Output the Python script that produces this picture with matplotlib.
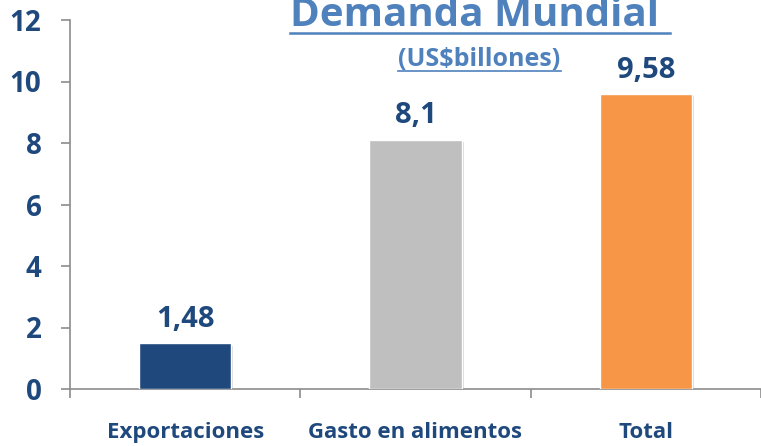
import matplotlib.pyplot as plt
import matplotlib.patheffects as pe
from matplotlib.lines import Line2D

categories = ['Exportaciones', 'Gasto en alimentos', 'Total']
values = [1.48, 8.1, 9.58]
value_labels = ['1,48', '8,1', '9,58']
bar_colors = ['#1F497D', '#BFBFBF', '#F79646']

txt = '#1F497D'
title_col = '#4F81BD'
axis_col = '#8C8C8C'
font = 'Open Sans'

fig = plt.figure(figsize=(7.61, 4.46), dpi=100)
ax = fig.add_axes([70 / 761, 1 - 389 / 446, 1 - 70 / 761, (389 - 20) / 446])

x = range(len(categories))
bars = ax.bar(x, values, width=0.4, color=bar_colors, edgecolor='white', linewidth=1,
              zorder=3)
for b in bars:
    b.set_path_effects([pe.SimplePatchShadow(offset=(1.5, -1.5), shadow_rgbFace='gray',
                                             alpha=0.3), pe.Normal()])

for xi, v, lab in zip(x, values, value_labels):
    ax.annotate(lab, (xi, v), xytext=(0, 7), textcoords='offset points',
                ha='center', va='bottom', fontsize=21, fontweight='bold',
                color=txt, family=font)

ax.set_xlim(-0.5, 2.5)
ax.set_ylim(0, 12)
ax.set_yticks(range(0, 13, 2))
ax.set_xticks(list(x))
ax.set_xticklabels(categories)
ax.set_xticks([-0.5, 0.5, 1.5, 2.5], minor=True)

for s in ['top', 'right']:
    ax.spines[s].set_visible(False)
for s in ['left', 'bottom']:
    ax.spines[s].set_color(axis_col)
    ax.spines[s].set_linewidth(1.2)

ax.tick_params(axis='y', length=6.5, width=1.2, color=axis_col, pad=14,
               labelsize=20, labelcolor=txt)
ax.tick_params(axis='x', which='major', length=0, pad=24, labelsize=16,
               labelcolor=txt)
ax.tick_params(axis='x', which='minor', length=6.5, width=1.2, color=axis_col)
for lbl in ax.get_xticklabels() + ax.get_yticklabels():
    lbl.set_fontweight('bold')
    lbl.set_family(font)

# title and subtitle, underlined
fig.text(475 / 761, 1 - 26 / 446, 'Demanda Mundial', ha='center', va='baseline',
         fontsize=29, fontweight='bold', color=title_col, family=font)
fig.add_artist(Line2D([290 / 761, 670 / 761], [1 - 33 / 446, 1 - 33 / 446],
                      color=title_col, linewidth=1.8))
fig.text(479 / 761, 1 - 66 / 446, '(US$billones)', ha='center', va='baseline',
         fontsize=18, fontweight='bold', color=title_col, family=font)
fig.add_artist(Line2D([398 / 761, 561 / 761], [1 - 71 / 446, 1 - 71 / 446],
                      color=title_col, linewidth=1.2))

fig.savefig('out.png', dpi=100)
